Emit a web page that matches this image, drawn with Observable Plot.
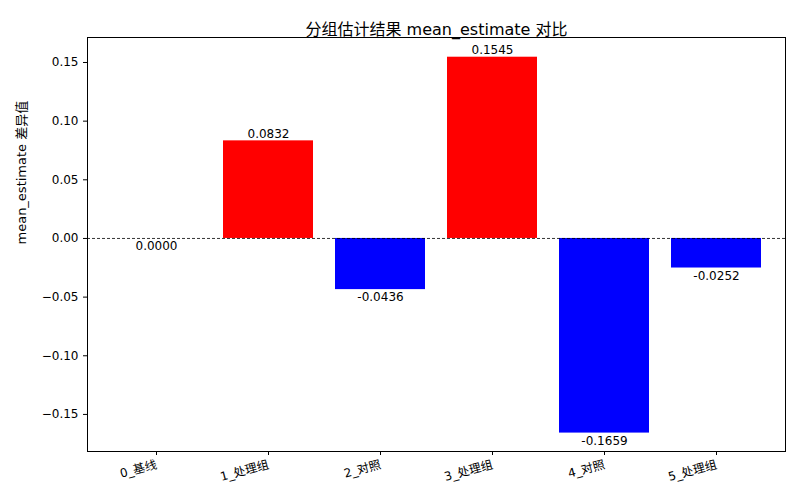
<!DOCTYPE html>
<html><head><meta charset="utf-8">
<script src="https://cdn.jsdelivr.net/npm/d3@7"></script>
<script src="https://cdn.jsdelivr.net/npm/@observablehq/plot@0.6"></script>
<style>body{margin:0;background:#fff}svg{font-family:"DejaVu Sans","Noto Sans CJK SC",sans-serif}</style>
</head><body><div id="chart"></div>
<script>
const categories = ["0_基线", "1_处理组", "2_对照", "3_处理组", "4_对照", "5_处理组"];
const values = [0.0, 0.0832, -0.0436, 0.1545, -0.1659, -0.0252];
const yTicks = [-0.15, -0.10, -0.05, 0.00, 0.05, 0.10, 0.15];
const titleText = "分组估计结果 mean_estimate 对比";
const yLabel = "mean_estimate 差异值";

const data = categories.map((c, i) => ({cat: c, v: values[i]}));
const pos = data.filter(d => d.v > 0);
const neg = data.filter(d => d.v <= 0);

const p = Plot.plot({
  width: 800, height: 500,
  marginTop: 37, marginBottom: 49, marginLeft: 87, marginRight: 15,
  style: {fontSize: "12px", fontFamily: '"DejaVu Sans","Noto Sans CJK SC",sans-serif'},
  x: {domain: categories, paddingInner: 0.2, paddingOuter: 0.19, label: null, tickRotate: -15},
  y: {domain: [-0.1816, 0.1713], ticks: yTicks, tickFormat: d3.format(".2f"), label: null},
  marks: [
    Plot.barY(data, {x: "cat", y: "v", fill: d => d.v >= 0 ? "red" : "blue"}),
    Plot.ruleY([0], {stroke: "black", strokeWidth: 0.8, strokeDasharray: "3,2"}),
    Plot.text(pos, {x: "cat", y: "v", text: d => d.v.toFixed(4), dy: -7, fill: "black", fontSize: 12}),
    Plot.text(neg, {x: "cat", y: "v", text: d => d.v.toFixed(4), dy: 8, fill: "black", fontSize: 12}),
    Plot.frame({stroke: "black"}),
    Plot.axisY({ticks: yTicks, tickFormat: d => d3.format(".2f")(d).replace("-", "−"), tickSize: 4, fontSize: 12, label: null}),
    Plot.axisX({tickRotate: -15, tickSize: 4, fontSize: 12, label: null}),
    Plot.text([titleText], {frameAnchor: "top", dy: -14, fontSize: 16, fill: "black"}),
    Plot.text([yLabel], {frameAnchor: "left", dx: -66, rotate: -90, fontSize: 13, fill: "black"})
  ]
});
document.getElementById("chart").append(p);
</script></body></html>
